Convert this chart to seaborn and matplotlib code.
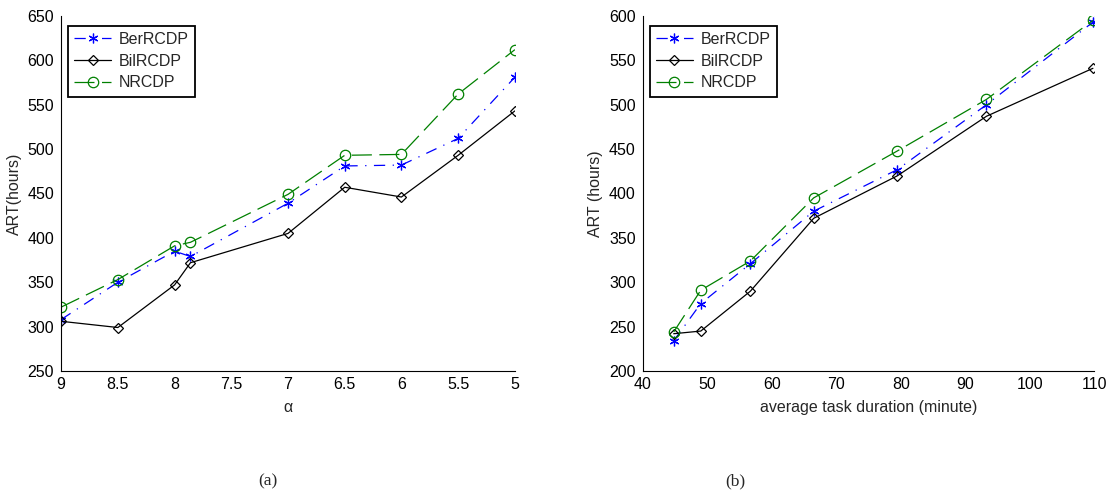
import seaborn as sns
import matplotlib.pyplot as plt
import numpy as np
import pandas as pd

sns.set_style('white')
plt.rcParams['font.family'] = ['Liberation Sans', 'DejaVu Sans']
plt.rcParams['xtick.direction'] = 'in'
plt.rcParams['ytick.direction'] = 'in'

# (a) ART vs alpha
alpha = [9, 8.5, 8, 7.86, 7, 6.5, 6, 5.5, 5]
ber_a = [308, 350, 385, 379, 439, 481, 482, 512, 581]
bil_a = [306, 299, 347, 372, 405, 457, 446, 493, 543]
nr_a = [322, 353, 391, 395, 449, 493, 494, 562, 612]

# (b) ART vs average task duration
dur = [44.8, 49, 56.7, 66.5, 79.5, 93.3, 109.8]
ber_b = [234, 276, 321, 380, 427, 500, 593]
bil_b = [242, 245, 290, 372, 420, 487, 541]
nr_b = [244, 291, 324, 395, 448, 506, 595]

names = ['BerRCDP', 'BilRCDP', 'NRCDP']
colors = ['blue', 'black', 'green']
marks = [(6, 2, 0), 'D', 'o']
msizes = [7, 5.5, 7.5]
styles = [(0, (9, 6, 1, 6)), '-', (0, (16, 6))]

fig = plt.figure(figsize=(11.12, 4.98), dpi=100)
ax1 = fig.add_axes([0.055, 0.255, 0.408, 0.713])
ax2 = fig.add_axes([0.578, 0.255, 0.406, 0.713])


def draw(ax, x, series):
    for ys, nm, c, m, ms, ls in zip(series, names, colors, marks, msizes, styles):
        sns.lineplot(x=x, y=ys, ax=ax, color=c, marker=m, linestyle=ls,
                     lw=0.9, markersize=ms,
                     markerfacecolor='none', markeredgecolor=c,
                     markeredgewidth=0.9, label=nm, sort=False)
    for s in ['top', 'right']:
        ax.spines[s].set_visible(False)
    for s in ['left', 'bottom']:
        ax.spines[s].set_color('black')
        ax.spines[s].set_linewidth(0.8)
    ax.tick_params(labelsize=11.5, length=4, width=0.8, colors='black')
    ax.tick_params(axis='y', pad=5)
    ax.tick_params(axis='x', pad=4)
    leg = ax.legend(loc='upper left', bbox_to_anchor=(0.008, 0.982), fontsize=11.5,
                    fancybox=False, framealpha=1, edgecolor='black',
                    handlelength=2.3, borderpad=0.4, labelspacing=0.42,
                    handletextpad=0.5, borderaxespad=0.2)
    leg.get_frame().set_linewidth(1.3)


draw(ax1, alpha, [ber_a, bil_a, nr_a])
ax1.set_xlim(9, 5)
ax1.set_ylim(250, 650)
ax1.set_xticks([9, 8.5, 8, 7.5, 7, 6.5, 6, 5.5, 5])
ax1.set_xticklabels(['9', '8.5', '8', '7.5', '7', '6.5', '6', '5.5', '5'])
ax1.set_yticks(np.arange(250, 651, 50))
ax1.set_xlabel('α', fontsize=11.5, labelpad=6)
ax1.set_ylabel('ART(hours)', fontsize=11.5, labelpad=4)

draw(ax2, dur, [ber_b, bil_b, nr_b])
ax2.set_xlim(40, 110)
ax2.set_ylim(200, 600)
ax2.set_xticks(np.arange(40, 111, 10))
ax2.set_yticks(np.arange(200, 601, 50))
ax2.set_xlabel('average task duration (minute)', fontsize=11.5, labelpad=6)
ax2.set_ylabel('ART (hours)', fontsize=11.5, labelpad=4)

fig.text(0.241, 0.025, '(a)', ha='center', fontsize=12.5, family='Liberation Serif')
fig.text(0.661, 0.025, '(b)', ha='center', fontsize=12.5, family='Liberation Serif')

fig.savefig('out.png', dpi=100)
